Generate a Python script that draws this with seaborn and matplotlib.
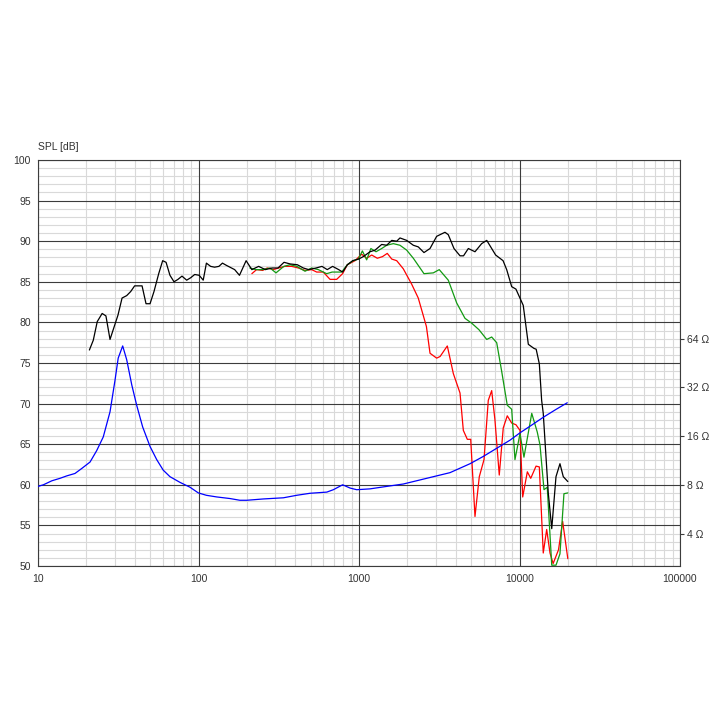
import numpy as np
import pandas as pd
import matplotlib
matplotlib.use('Agg')
import matplotlib.pyplot as plt
import matplotlib.ticker as mticker
import seaborn as sns

# on-axis SPL (black)
f_black = [20.9, 22.1, 23.4, 25.1, 26.5, 28.1, 31.5, 33.4, 35.7, 37.8, 40.0, 44.5, 47.1, 49.9,
           52.8, 56.5, 59.8, 62.8, 66.4, 70.4, 74.5, 78.9, 84.4, 89.4, 94.7, 101, 107, 112,
           119, 126, 134, 141, 150, 157, 168, 180, 198, 215, 237, 261, 287, 313, 341, 372,
           413, 450, 486, 540, 588, 634, 685, 747, 791, 846, 913, 995, 1063, 1171, 1259,
           1385, 1488, 1600, 1718, 1800, 1982, 2180, 2340, 2540, 2770, 3047, 3433, 3600,
           3906, 4260, 4480, 4800, 5280, 5810, 6250, 7100, 7900, 8320, 8940, 9500, 10550,
           11350, 12300, 12700, 13290, 13740, 14060, 15110, 15880, 16880, 17870, 18740, 20000]
spl_black = [76.6, 77.8, 80.1, 81.1, 80.8, 77.9, 80.9, 83.0, 83.3, 83.8, 84.5, 84.5, 82.3, 82.3,
             83.8, 86.0, 87.6, 87.4, 85.8, 85.0, 85.3, 85.7, 85.2, 85.5, 85.9, 85.8, 85.2, 87.3,
             86.9, 86.8, 86.9, 87.3, 87.0, 86.8, 86.5, 85.8, 87.6, 86.5, 86.9, 86.5, 86.7, 86.7,
             87.4, 87.2, 87.1, 86.7, 86.5, 86.7, 86.9, 86.5, 86.9, 86.5, 86.2, 87.1, 87.6, 87.8,
             88.1, 88.7, 88.9, 89.6, 89.5, 90.1, 90.0, 90.4, 90.1, 89.5, 89.3, 88.6, 89.1, 90.6,
             91.1, 90.8, 89.1, 88.2, 88.2, 89.1, 88.7, 89.7, 90.1, 88.3, 87.6, 86.5, 84.4, 84.1,
             82.1, 77.3, 76.8, 76.7, 74.9, 70.4, 68.8, 59.0, 54.6, 61.0, 62.6, 61.0, 60.4]

# 30 deg off-axis (green)
f_green = [209, 228, 251, 279, 304, 340, 372, 410, 461, 507, 558, 629, 680, 726, 780, 846, 921,
           990, 1050, 1116, 1186, 1276, 1385, 1488, 1636, 1800, 1982, 2180, 2540, 2904, 3162,
           3600, 4060, 4575, 5040, 5590, 6250, 6710, 7210, 7740, 8390, 8940, 9370, 10070,
           10660, 11920, 12900, 13420, 14210, 14890, 15880, 16880, 17870, 18920, 20000]
spl_green = [86.7, 86.5, 86.5, 86.7, 86.1, 86.9, 87.1, 86.9, 86.3, 86.7, 86.5, 86.0, 86.2, 86.2,
             86.2, 87.1, 87.6, 87.8, 88.8, 87.7, 89.1, 88.7, 89.1, 89.5, 89.7, 89.5, 88.9, 87.9,
             86.0, 86.1, 86.5, 85.2, 82.4, 80.5, 79.9, 79.1, 77.9, 78.2, 77.5, 74.0, 69.8, 69.3,
             63.1, 66.3, 63.4, 68.8, 66.5, 64.9, 59.4, 59.7, 50.1, 50.1, 51.5, 58.9, 59.0]

# 60 deg off-axis (red)
f_red = [215, 230, 251, 268, 292, 315, 345, 381, 419, 461, 507, 545, 599, 660, 726, 790, 846,
         944, 1039, 1116, 1200, 1300, 1400, 1500, 1600, 1718, 1888, 2130, 2340, 2630, 2770,
         3047, 3200, 3550, 3870, 4260, 4467, 4730, 4966, 5280, 5617, 6010, 6390, 6710, 7030,
         7480, 7920, 8390, 8940, 9500, 10070, 10470, 11190, 11750, 12680, 13290, 14060, 14770,
         15490, 16200, 17500, 18570, 20000]
spl_red = [86.0, 86.5, 86.4, 86.7, 86.5, 86.7, 86.9, 86.9, 86.7, 86.4, 86.5, 86.2, 86.2, 85.3,
           85.3, 86.0, 87.1, 87.6, 88.4, 87.9, 88.3, 87.9, 88.1, 88.5, 87.8, 87.6, 86.6, 84.7,
           83.0, 79.5, 76.2, 75.6, 75.8, 77.1, 73.7, 71.3, 66.7, 65.6, 65.6, 56.1, 61.0, 63.1,
           70.4, 71.6, 68.0, 61.2, 67.0, 68.5, 67.6, 67.4, 66.7, 58.5, 61.6, 60.8, 62.3, 62.2,
           51.6, 54.5, 51.6, 50.3, 52.0, 55.5, 50.9]

# impedance (blue), ohms
f_imp = [10, 10.8, 12.2, 13.7, 15.1, 17.0, 18.7, 21.1, 23.2, 25.5, 28.1, 30.2, 31.6, 33.7, 35.7,
         38.4, 41.2, 44.9, 49.9, 54.9, 60.3, 66.4, 76.7, 88.5, 99.7, 112, 130, 157, 181, 200,
         253, 338, 409, 495, 630, 692, 791, 879, 968, 1171, 1488, 1888, 2514, 3200, 3690, 4920,
         5950, 7210, 8730, 10070, 11620, 14060, 16900, 19840]
z_imp = [7.82, 8.0, 8.47, 8.77, 9.08, 9.40, 10.08, 11.06, 13.0, 15.8, 22.6, 35.5, 48.5, 57.7,
         47.4, 33.1, 24.8, 18.2, 13.8, 11.45, 9.85, 8.98, 8.28, 7.73, 7.13, 6.89, 6.73, 6.58,
         6.42, 6.42, 6.54, 6.65, 6.89, 7.09, 7.21, 7.46, 8.0, 7.64, 7.46, 7.55, 7.82, 8.09,
         8.67, 9.19, 9.51, 10.8, 11.98, 13.45, 15.1, 16.76, 18.4, 20.9, 23.4, 25.7]

y_ticks = [50, 55, 60, 65, 70, 75, 80, 85, 90, 95, 100]
x_ticks = [10, 100, 1000, 10000, 100000]
z_ticks = [4, 8, 16, 32, 64]

sns.set_style('white')
plt.rcParams['font.family'] = ['Liberation Sans', 'DejaVu Sans']
txt = '#333333'
major_c = '#3c3c3c'

fig = plt.figure(figsize=(7.21, 7.21), dpi=100)
ax = fig.add_axes([38 / 721, 155 / 721, 642 / 721, 406 / 721])

ax.set_xscale('log')
ax.set_xlim(10, 100000)
ax.set_ylim(50, 100)

ax.xaxis.set_major_locator(mticker.FixedLocator(x_ticks))
ax.xaxis.set_major_formatter(mticker.FixedFormatter([str(v) for v in x_ticks]))
ax.xaxis.set_minor_locator(mticker.LogLocator(base=10, subs=np.arange(2, 10), numticks=20))
ax.xaxis.set_minor_formatter(mticker.NullFormatter())
ax.yaxis.set_major_locator(mticker.FixedLocator(y_ticks))
ax.yaxis.set_minor_locator(mticker.MultipleLocator(1))

# light minor grid underneath, dark major grid drawn on top of it
ax.grid(True, which='minor', color='#d9d9d9', lw=0.8)
ax.set_axisbelow(True)
for v in x_ticks:
    ax.axvline(v, color=major_c, lw=0.8, zorder=0.9)
for v in y_ticks:
    ax.axhline(v, color=major_c, lw=0.8, zorder=0.9)

ax.tick_params(which='both', length=0, labelsize=7.5, labelcolor=txt)
ax.tick_params(axis='x', pad=6)
ax.tick_params(axis='y', pad=5)
for s in ax.spines.values():
    s.set_color(major_c)
    s.set_linewidth(0.8)

df_r = pd.DataFrame({'f': f_red, 'spl': spl_red})
df_g = pd.DataFrame({'f': f_green, 'spl': spl_green})
df_b = pd.DataFrame({'f': f_black, 'spl': spl_black})
sns.lineplot(data=df_r, x='f', y='spl', ax=ax, color='#ff0000', lw=0.9, estimator=None, sort=False)
sns.lineplot(data=df_g, x='f', y='spl', ax=ax, color='#129a12', lw=0.9, estimator=None, sort=False)
sns.lineplot(data=df_b, x='f', y='spl', ax=ax, color='#000000', lw=0.9, estimator=None, sort=False)
ax.set_xlabel('')
ax.set_ylabel('')
ax.text(0.0, 1.02, 'SPL [dB]', transform=ax.transAxes, ha='left', va='bottom',
        fontsize=7.5, color=txt)

# impedance on a log2 right axis: 8 ohm sits at 60 dB, 6 dB per doubling
ax2 = ax.twinx()
ax2.set_yscale('log', base=2)
ax2.set_ylim(8 * 2 ** (-10 / 6), 8 * 2 ** (40 / 6))
df_z = pd.DataFrame({'f': f_imp, 'z': z_imp})
sns.lineplot(data=df_z, x='f', y='z', ax=ax2, color='#0000ff', lw=0.9, estimator=None, sort=False)
ax2.set_ylabel('')
ax2.yaxis.set_major_locator(mticker.FixedLocator(z_ticks))
ax2.yaxis.set_major_formatter(mticker.FixedFormatter([f'{v} Ω' for v in z_ticks]))
ax2.yaxis.set_minor_locator(mticker.NullLocator())
ax2.tick_params(axis='y', length=3, width=0.8, color=major_c, labelsize=7.5,
                labelcolor=txt, pad=2)
ax2.grid(False)
for s in ax2.spines.values():
    s.set_visible(False)
ax2.set_xlim(10, 100000)

fig.savefig('out.png', dpi=100, facecolor='white')
